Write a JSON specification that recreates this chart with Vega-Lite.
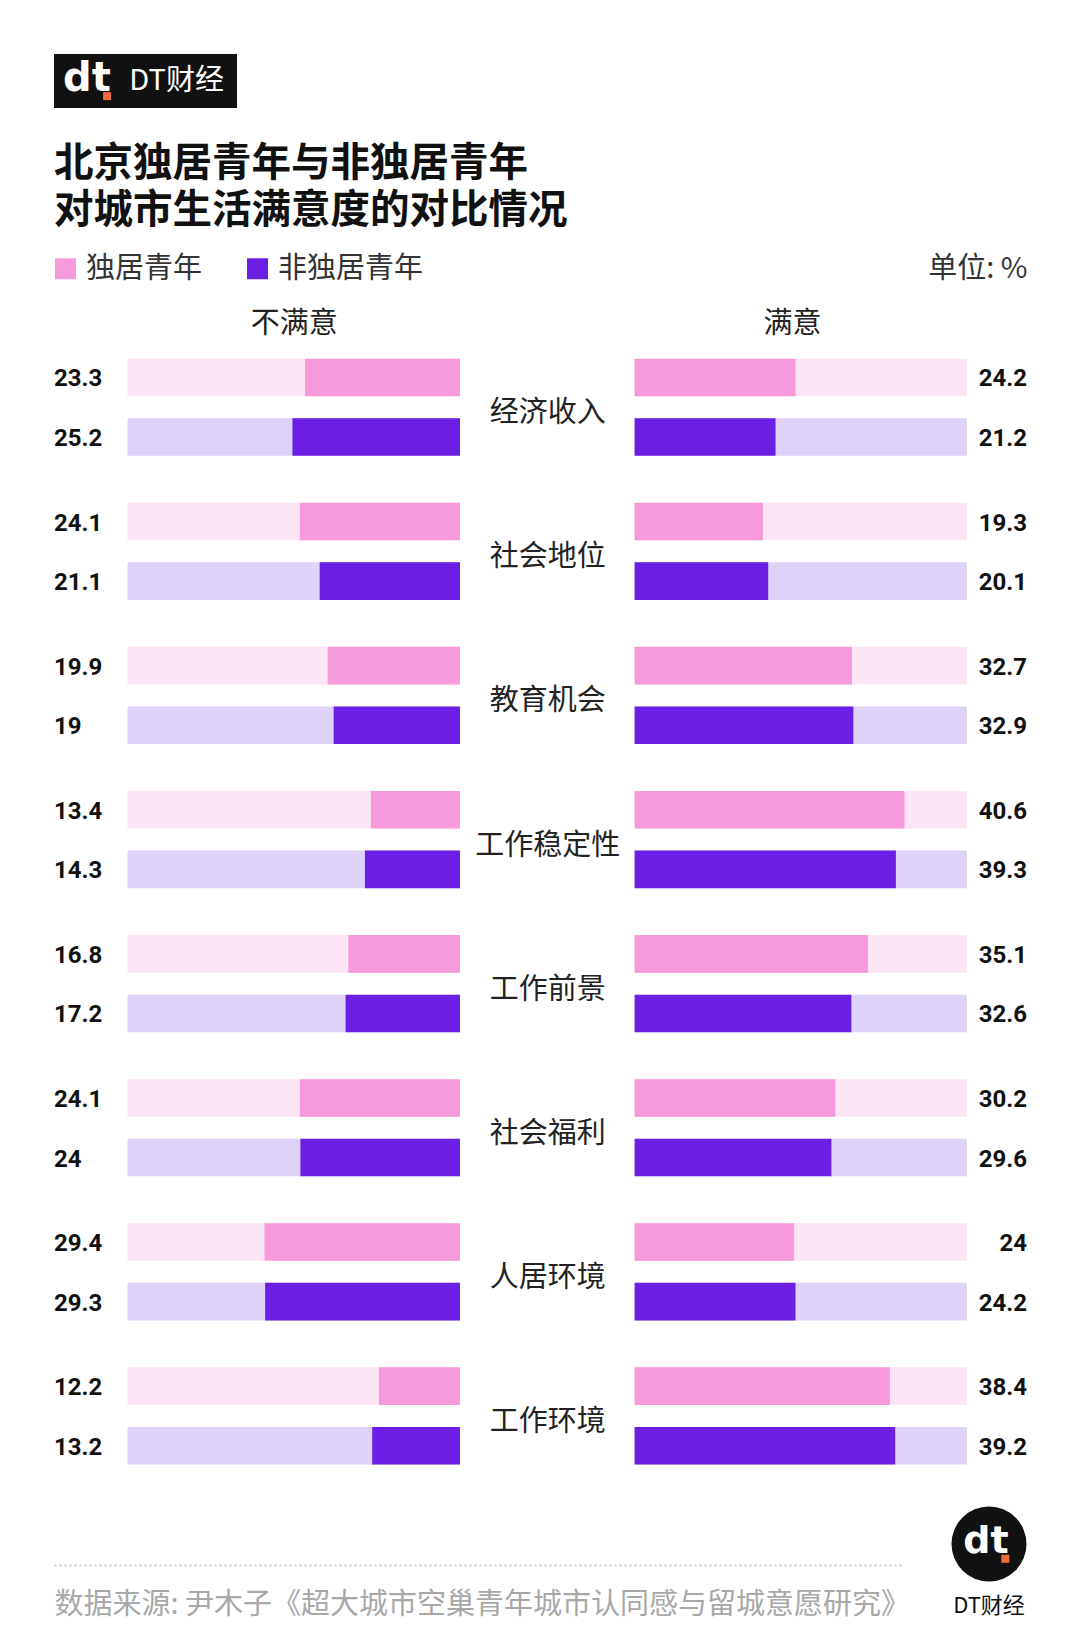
{
  "$schema": "https://vega.github.io/schema/vega-lite/v6.json",
  "width": 1080,
  "height": 1640,
  "autosize": {"type": "none"},
  "padding": 0,
  "background": "#ffffff",
  "config": {
    "view": {"stroke": null},
    "font": "Noto Sans CJK SC",
    "axis": {"grid": false, "ticks": false, "labels": false, "domain": false}
  },
  "datasets": {
    "survey": [
      {"item": "经济收入", "group": "独居青年", "unsatisfied": 23.3, "satisfied": 24.2},
      {"item": "经济收入", "group": "非独居青年", "unsatisfied": 25.2, "satisfied": 21.2},
      {"item": "社会地位", "group": "独居青年", "unsatisfied": 24.1, "satisfied": 19.3},
      {"item": "社会地位", "group": "非独居青年", "unsatisfied": 21.1, "satisfied": 20.1},
      {"item": "教育机会", "group": "独居青年", "unsatisfied": 19.9, "satisfied": 32.7},
      {"item": "教育机会", "group": "非独居青年", "unsatisfied": 19, "satisfied": 32.9},
      {"item": "工作稳定性", "group": "独居青年", "unsatisfied": 13.4, "satisfied": 40.6},
      {"item": "工作稳定性", "group": "非独居青年", "unsatisfied": 14.3, "satisfied": 39.3},
      {"item": "工作前景", "group": "独居青年", "unsatisfied": 16.8, "satisfied": 35.1},
      {"item": "工作前景", "group": "非独居青年", "unsatisfied": 17.2, "satisfied": 32.6},
      {"item": "社会福利", "group": "独居青年", "unsatisfied": 24.1, "satisfied": 30.2},
      {"item": "社会福利", "group": "非独居青年", "unsatisfied": 24, "satisfied": 29.6},
      {"item": "人居环境", "group": "独居青年", "unsatisfied": 29.4, "satisfied": 24},
      {"item": "人居环境", "group": "非独居青年", "unsatisfied": 29.3, "satisfied": 24.2},
      {"item": "工作环境", "group": "独居青年", "unsatisfied": 12.2, "satisfied": 38.4},
      {"item": "工作环境", "group": "非独居青年", "unsatisfied": 13.2, "satisfied": 39.2}
    ],
    "brand": [{"name": "DT财经", "logo": "dt"}]
  },
  "title": {
    "text": ["北京独居青年与非独居青年", "对城市生活满意度的对比情况"],
    "anchor": "start",
    "frame": "group",
    "orient": "top",
    "offset": -231,
    "dx": 54,
    "fontSize": 39.5,
    "fontWeight": "bold",
    "lineHeight": 47,
    "color": "#111111",
    "font": "Noto Sans CJK SC"
  },
  "layer": [
    {
      "data": {"name": "survey"},
      "encoding": {
        "y": {
          "field": "item", "type": "nominal",
          "sort": ["经济收入", "社会地位", "教育机会", "工作稳定性", "工作前景", "社会福利", "人居环境", "工作环境"],
          "scale": {"range": [335.2, 1488], "paddingInner": 0.3255, "paddingOuter": 0.16275},
          "axis": {
            "orient": "left", "offset": -547.3, "labels": true, "ticks": false, "domain": false,
            "labelAlign": "center", "labelBaseline": "middle", "labelPadding": 0, "labelOffset": 6,
            "labelFontSize": 29, "labelColor": "#222222", "labelFont": "Noto Sans CJK SC",
            "title": "单位: %", "titleAngle": 0, "titleX": 479.7, "titleY": 268,
            "titleAlign": "right", "titleBaseline": "middle", "titleFontSize": 29,
            "titleFontWeight": "normal", "titleColor": "#333333", "titleFont": "Noto Sans CJK SC"
          }
        },
        "yOffset": {
          "field": "group", "type": "nominal", "sort": ["独居青年", "非独居青年"],
          "scale": {"paddingInner": 0.369, "paddingOuter": 0}
        }
      },
      "layer": [
        {
          "mark": {"type": "bar"},
          "encoding": {
            "x": {
              "datum": 0, "type": "quantitative",
              "scale": {"domain": [0, 50], "range": [460, 127.5]},
              "axis": {"orient": "top", "offset": -340, "title": "不满意", "titlePadding": 2,
                "titleFontSize": 29, "titleFontWeight": "normal", "titleColor": "#222222", "titleFont": "Noto Sans CJK SC"}
            },
            "x2": {"datum": 50},
            "color": {"condition": {"test": "datum.group === '独居青年'", "value": "#FCE6F5"}, "value": "#DFD2F8"}
          }
        },
        {
          "mark": {"type": "bar"},
          "encoding": {
            "x": {
              "field": "unsatisfied", "type": "quantitative",
              "axis": {"orient": "top", "offset": -340, "title": "不满意", "titlePadding": 2,
                "titleFontSize": 29, "titleFontWeight": "normal", "titleColor": "#222222", "titleFont": "Noto Sans CJK SC"}
            },
            "color": {
              "field": "group", "type": "nominal",
              "scale": {"domain": ["独居青年", "非独居青年"], "range": ["#F79ADB", "#6B1FE3"]},
              "legend": {
                "orient": "none", "legendX": 51, "legendY": 254, "direction": "horizontal",
                "title": null, "symbolType": "square", "symbolSize": 441, "symbolStrokeWidth": 0,
                "labelFontSize": 29, "labelColor": "#333333", "labelFont": "Noto Sans CJK SC",
                "labelOffset": 6, "columnPadding": 40, "labelLimit": 300
              }
            }
          }
        }
      ]
    },
    {
      "data": {"name": "survey"},
      "encoding": {
        "y": {
          "field": "item", "type": "nominal",
          "sort": ["经济收入", "社会地位", "教育机会", "工作稳定性", "工作前景", "社会福利", "人居环境", "工作环境"],
          "scale": {"range": [335.2, 1488], "paddingInner": 0.3255, "paddingOuter": 0.16275},
          "axis": null
        },
        "yOffset": {
          "field": "group", "type": "nominal", "sort": ["独居青年", "非独居青年"],
          "scale": {"paddingInner": 0.369, "paddingOuter": 0}
        }
      },
      "layer": [
        {
          "mark": {"type": "bar"},
          "encoding": {
            "x": {
              "datum": 0, "type": "quantitative",
              "scale": {"domain": [0, 50], "range": [634.6, 967]},
              "axis": {"orient": "top", "offset": -340, "title": "满意", "titlePadding": 2, "titleX": 792,
                "titleFontSize": 29, "titleFontWeight": "normal", "titleColor": "#222222", "titleFont": "Noto Sans CJK SC"}
            },
            "x2": {"datum": 50},
            "color": {"condition": {"test": "datum.group === '独居青年'", "value": "#FCE6F5"}, "value": "#DFD2F8"}
          }
        },
        {
          "mark": {"type": "bar"},
          "encoding": {
            "x": {
              "field": "satisfied", "type": "quantitative",
              "axis": {"orient": "top", "offset": -340, "title": "满意", "titlePadding": 2, "titleX": 792,
                "titleFontSize": 29, "titleFontWeight": "normal", "titleColor": "#222222", "titleFont": "Noto Sans CJK SC"}
            },
            "color": {"field": "group", "type": "nominal"}
          }
        },
        {
          "mark": {"type": "text", "align": "right", "baseline": "middle", "dx": 60, "dy": 2, "font": "Roboto", "fontWeight": "bold", "fontSize": 24, "color": "#111111"},
          "encoding": {
            "x": {"datum": 50, "type": "quantitative"},
            "text": {"field": "satisfied", "type": "quantitative"}
          }
        }
      ]
    },
    {
      "data": {"name": "survey"},
      "mark": {"type": "text", "align": "left", "baseline": "middle", "dy": 2, "font": "Roboto", "fontWeight": "bold", "fontSize": 24, "color": "#111111"},
      "encoding": {
        "y": {
          "field": "item", "type": "nominal",
          "sort": ["经济收入", "社会地位", "教育机会", "工作稳定性", "工作前景", "社会福利", "人居环境", "工作环境"],
          "scale": {"range": [335.2, 1488], "paddingInner": 0.3255, "paddingOuter": 0.16275},
          "axis": null
        },
        "yOffset": {
          "field": "group", "type": "nominal", "sort": ["独居青年", "非独居青年"],
          "scale": {"paddingInner": 0.369, "paddingOuter": 0}
        },
        "x": {
          "datum": 0, "type": "quantitative",
          "scale": {"domain": [0, 1], "range": [54, 901]},
          "axis": {
            "orient": "bottom", "offset": -75, "domain": true, "domainDash": [2, 3],
            "domainColor": "#bdbdbd", "domainWidth": 1.5,
            "title": "数据来源: 尹木子《超大城市空巢青年城市认同感与留城意愿研究》",
            "titleAnchor": "start", "titleAlign": "left", "titlePadding": 25,
            "titleFontSize": 29, "titleFontWeight": "normal", "titleColor": "#a8a8a8", "titleFont": "Noto Sans CJK SC"
          }
        },
        "text": {"field": "unsatisfied", "type": "quantitative"}
      }
    },
    {
      "data": {"name": "brand"},
      "layer": [
        {
          "mark": {"type": "rect", "color": "#111111"},
          "encoding": {
            "x": {"datum": 0, "type": "quantitative", "scale": {"domain": [0, 1], "range": [54, 237]}, "axis": null},
            "x2": {"datum": 1},
            "y": {"datum": 0, "type": "quantitative", "scale": {"domain": [0, 1], "range": [54, 108]}, "axis": null},
            "y2": {"datum": 1}
          }
        },
        {
          "mark": {"type": "text", "color": "#ffffff", "font": "DejaVu Sans", "fontWeight": "bold", "fontSize": 40, "align": "center", "baseline": "middle"},
          "encoding": {
            "x": {"datum": 0.18, "type": "quantitative"},
            "y": {"datum": 0.46, "type": "quantitative"},
            "text": {"field": "logo"}
          }
        },
        {
          "mark": {"type": "point", "shape": "square", "filled": true, "color": "#F26B3A", "size": 64, "opacity": 1},
          "encoding": {
            "x": {"datum": 0.29, "type": "quantitative"},
            "y": {"datum": 0.78, "type": "quantitative"}
          }
        },
        {
          "mark": {"type": "text", "color": "#ffffff", "font": "Noto Sans CJK SC", "fontSize": 29, "align": "center", "baseline": "middle"},
          "encoding": {
            "x": {"datum": 0.67, "type": "quantitative"},
            "y": {"datum": 0.5, "type": "quantitative"},
            "text": {"field": "name"}
          }
        }
      ]
    },
    {
      "data": {"name": "brand"},
      "layer": [
        {
          "mark": {"type": "point", "shape": "circle", "filled": true, "color": "#111111", "size": 5625, "opacity": 1},
          "encoding": {
            "x": {"datum": 0.5, "type": "quantitative", "scale": {"domain": [0, 1], "range": [952, 1026]}, "axis": null},
            "y": {"datum": 0.5, "type": "quantitative", "scale": {"domain": [0, 1], "range": [1507, 1581]}, "axis": null}
          }
        },
        {
          "mark": {"type": "text", "color": "#ffffff", "font": "DejaVu Sans", "fontWeight": "bold", "fontSize": 38, "align": "center", "baseline": "middle"},
          "encoding": {
            "x": {"datum": 0.46, "type": "quantitative"},
            "y": {"datum": 0.47, "type": "quantitative"},
            "text": {"field": "logo"}
          }
        },
        {
          "mark": {"type": "point", "shape": "square", "filled": true, "color": "#F26B3A", "size": 64, "opacity": 1},
          "encoding": {
            "x": {"datum": 0.72, "type": "quantitative"},
            "y": {"datum": 0.7, "type": "quantitative"}
          }
        },
        {
          "mark": {"type": "text", "color": "#111111", "font": "Noto Sans CJK SC", "fontSize": 22, "align": "center", "baseline": "middle"},
          "encoding": {
            "x": {"datum": 0.5, "type": "quantitative"},
            "y": {"datum": 1.34, "type": "quantitative"},
            "text": {"field": "name"}
          }
        }
      ]
    }
  ],
  "resolve": {"scale": {"x": "independent", "y": "independent"}}
}
